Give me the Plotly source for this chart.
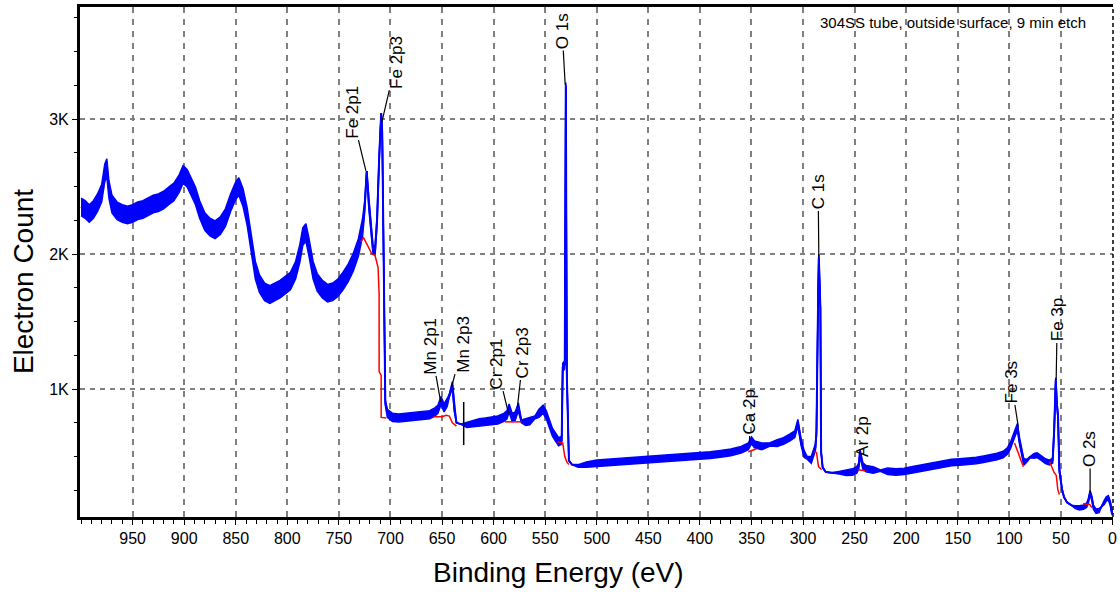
import plotly.graph_objects as go

# ---------------- data ----------------
binding_energy = [
    1000, 996, 992, 988, 984, 980, 977, 975, 973, 970, 965, 960, 955, 950, 945, 940, 935, 930, 925, 920,
    915, 910, 905, 901, 897, 893, 889, 885, 880, 875, 870, 865, 860, 855, 850, 847, 843, 839, 835, 831,
    827, 822, 817, 812, 807, 802, 797, 792, 788, 785, 782, 779, 775, 771, 766, 761, 756, 751, 746, 741,
    736, 731, 727, 725, 723, 721, 719, 717, 715, 713, 711, 709, 708, 707, 706, 705, 703, 698, 692, 686,
    680, 674, 668, 662, 657, 654, 651, 648, 645, 643, 640, 638, 636, 632, 626, 620, 614, 608, 602, 596,
    590, 587, 585, 582, 579, 576, 573, 569, 565, 560, 556, 552, 549, 546, 543, 540, 537, 534, 533, 531,
    530, 529, 528, 527, 524, 518, 510, 500, 490, 480, 470, 460, 450, 440, 430, 420, 410, 400, 390, 380,
    370, 360, 353, 350, 347, 340, 332, 325, 319, 313, 308, 305, 302, 299, 296, 292, 290, 288, 287, 286,
    285.3, 284.7, 284, 283.2, 282.5, 281, 278, 272, 265, 258, 252, 248, 246, 244.8, 242, 239, 232, 225, 218, 210,
    202, 195, 188, 180, 172, 164, 156, 148, 140, 132, 125, 118, 112, 106, 102, 99, 96, 93.5, 92.2, 90,
    88, 86, 83, 80, 76, 73, 69, 65, 61, 58, 56.5, 55, 53.8, 52.8, 51.5, 49, 47, 44, 40, 36,
    32, 28, 25, 23.5, 21.7, 20, 18.5, 16, 13, 11, 8, 6, 4, 2, 1, 0,
]
electron_count = [
    2350, 2330, 2300, 2330, 2380, 2450, 2600, 2640, 2480, 2370, 2320, 2300, 2290, 2300, 2320, 2330, 2350, 2370, 2380, 2400,
    2430, 2460, 2520, 2590, 2560, 2500, 2430, 2330, 2240, 2200, 2180, 2210, 2270, 2380, 2470, 2500, 2420, 2280, 2070, 1880,
    1780, 1720, 1700, 1720, 1740, 1770, 1800, 1880, 2000, 2130, 2160, 2050, 1880, 1790, 1740, 1710, 1720, 1750, 1800, 1860,
    1940, 2050, 2200, 2350, 2615, 2380, 2200, 2040, 2020, 2250, 2700, 3045, 2900, 2300, 1500, 900, 820, 790, 785, 790,
    790, 795, 800, 810, 830, 850, 915, 860, 900, 950, 1030, 850, 750, 740, 735, 745, 750, 755, 760, 770,
    790, 810, 860, 790, 800, 867, 760, 755, 760, 790, 820, 850, 810, 740, 680, 645, 610, 620, 1160, 1180,
    3250, 1100, 650, 470, 440, 430, 440, 450, 455, 460, 465, 470, 475, 480, 485, 490, 495, 500, 510, 520,
    530, 550, 575, 620, 590, 575, 590, 600, 615, 640, 665, 750, 610, 520, 490, 475, 520, 570, 680, 1570,
    1730, 1975, 1730, 1600, 535, 420, 385, 380, 380, 380, 385, 400, 430, 528, 430, 410, 400, 395, 390, 385,
    390, 400, 410, 420, 430, 445, 455, 460, 465, 470, 480, 490, 500, 515, 540, 580, 640, 700, 720, 610,
    520, 460, 470, 495, 505, 510, 490, 465, 455, 470, 700, 1066, 880, 800, 400, 260, 200, 160, 140, 125,
    120, 125, 140, 170, 232, 190, 125, 95, 100, 125, 160, 185, 195, 150, 100, 80,
]
# half-width of the noisy band around the trace (counts)
noise_halfwidth = (
    [65] * 63
    + [40, 0, 40, 40, 30, 30, 30, 20, 0, 0, 0, 0, 20]
    + [30] * 13 + [10, 25, 20, 0, 0, 20, 25] + [30] * 10 + [10, 25, 25, 10] + [30] * 10 + [20, 0, 0]
    + [0, 0, 10, 20] + [25] * 19 + [12] + [25] * 7 + [10] + [25] * 7 + [10, 0]
    + [0, 0, 0, 0, 10, 20] + [24] * 7 + [5] + [24] * 24 + [10, 5, 18]
    + [18] * 10 + [0, 0, 0, 0, 10] + [16] * 9 + [0] + [16] * 10
)

background_energy = [
    729, 726, 722, 718, 715, 712, 711, 711, 709, 709, 704, None,
    658, 650, 646, 643, 640, 636, None,
    589, 573, None,
    538, 533, 531, 529, 527, None,
    353, 348, 345, None,
    289, 287, 285, 282, None,
    247, 240, None,
    95, 90.3, 86.4, None,
    61, 56.5, 54.5, 53, 51.5, None,
    28.5, 22, 20,
]
background_count = [
    2090, 2120, 2060, 2000, 1990, 1900, 1700, 1130, 1100, 790, 785, None,
    795, 795, 805, 800, 750, 725, None,
    757, 757, None,
    610, 600, 500, 460, 440, None,
    535, 550, 557, None,
    535, 530, 425, 402, None,
    402, 395, None,
    601, 498, 425, None,
    461, 380, 360, 255, 218, None,
    150, 145, 122,
]

marker_energy = [629, 629]
marker_count = [904, 585]

peak_labels = ["Fe 2p1", "Fe 2p3", "O 1s", "Mn 2p1", "Mn 2p3", "Cr 2p1", "Cr 2p3",
               "Ca 2p", "C 1s", "Ar 2p", "Fe 3s", "Fe 3p", "O 2s"]
peak_energy = [723.8, 708.4, 530.6, 651.3, 640.7, 585.6, 576.9, 352, 284.7, 244.8, 91.3, 54.6, 21.7]
peak_count = [2616, 2975, 3252, 904, 1015, 822, 867, 600, 1970, 526, 719, 1067, 230]
label_energy = [737.6, 694.8, 533.5, 661, 630, 597.2, 571.1, 351, 285.3, 242.9, 98, 53.6, 21.7]
label_count = [3052, 3422, 3652, 1319, 1333, 1185, 1267, 830, 2459, 652, 1052, 1511, 556]

x_ticks = list(range(0, 1000, 50))
y_ticks = [1000, 2000, 3000]
y_tick_text = ["1K", "2K", "3K"]

# ---------------- figure ----------------
FONT = "Liberation Sans, Arial, sans-serif"
BLUE = "#0000ff"

lo = [c - n for c, n in zip(electron_count, noise_halfwidth)]
hi = [c + n for c, n in zip(electron_count, noise_halfwidth)]

fig = go.Figure()
fig.add_trace(go.Scatter(x=binding_energy, y=lo, mode="lines",
                         line=dict(color=BLUE, width=1.5), showlegend=False, hoverinfo="skip"))
fig.add_trace(go.Scatter(x=binding_energy, y=hi, mode="lines", fill="tonexty", fillcolor=BLUE,
                         line=dict(color=BLUE, width=1.5), showlegend=False, hoverinfo="skip"))
fig.add_trace(go.Scatter(x=binding_energy, y=electron_count, mode="lines",
                         line=dict(color=BLUE, width=2), showlegend=False))
fig.add_trace(go.Scatter(x=background_energy, y=background_count, mode="lines",
                         line=dict(color="#ff0000", width=1.5), showlegend=False, connectgaps=False))
fig.add_trace(go.Scatter(x=marker_energy, y=marker_count, mode="lines",
                         line=dict(color="black", width=1.5), showlegend=False))

for txt, px, py, tx, ty in zip(peak_labels, peak_energy, peak_count, label_energy, label_count):
    fig.add_annotation(x=px, y=py, xref="x", yref="y", ax=tx, ay=ty, axref="x", ayref="y",
                       text=txt, textangle=-90, showarrow=True, arrowhead=0, arrowwidth=1.2,
                       arrowcolor="black", standoff=0, startstandoff=0,
                       font=dict(family=FONT, size=17, color="black"))

fig.add_annotation(text="304SS tube, outside surface, 9 min etch", xref="paper", yref="paper",
                   x=0.845, y=0.969, xanchor="center", yanchor="middle", showarrow=False,
                   font=dict(family=FONT, size=15, color="black"))
fig.add_annotation(text="Binding Energy (eV)", xref="paper", yref="paper", x=0.463, y=-0.108,
                   xanchor="center", yanchor="middle", showarrow=False,
                   font=dict(family=FONT, size=28, color="black"))
fig.add_annotation(text="Electron Count", xref="paper", yref="paper", x=-0.054, y=0.461,
                   xanchor="center", yanchor="middle", textangle=-90, showarrow=False,
                   font=dict(family=FONT, size=28, color="black"))

# right border (dashed)
fig.add_shape(type="line", xref="paper", yref="paper", x0=1, x1=1, y0=0, y1=1,
              line=dict(color="black", width=1.5, dash="4px,3px"))

fig.update_xaxes(range=[1001, -0.5], tickmode="array", tickvals=x_ticks,
                 showgrid=True, gridcolor="#808080", gridwidth=1.5, griddash="6px,6px",
                 showline=True, linecolor="black", linewidth=3, mirror=True,
                 ticks="outside", ticklen=5, tickwidth=1, tickcolor="black",
                 ticklabeloverflow="allow",
                 minor=dict(dtick=10, tick0=0, ticks="outside", ticklen=4, tickcolor="black", showgrid=False),
                 tickfont=dict(family=FONT, size=16, color="black"), zeroline=False)
fig.update_yaxes(range=[52, 3830], tickmode="array", tickvals=y_ticks, ticktext=y_tick_text,
                 showgrid=True, gridcolor="#808080", gridwidth=2, griddash="5px,5px",
                 showline=True, linecolor="black", linewidth=3,
                 ticks="outside", ticklen=5, tickwidth=1, tickcolor="black",
                 minor=dict(dtick=250, tick0=0, ticks="outside", ticklen=3, tickcolor="black", showgrid=False),
                 tickfont=dict(family=FONT, size=16, color="black"), zeroline=False)

fig.update_layout(width=1120, height=592, margin=dict(l=80, r=3, t=7, b=75),
                  paper_bgcolor="white", plot_bgcolor="white", showlegend=False)

fig.write_html("out.html")
